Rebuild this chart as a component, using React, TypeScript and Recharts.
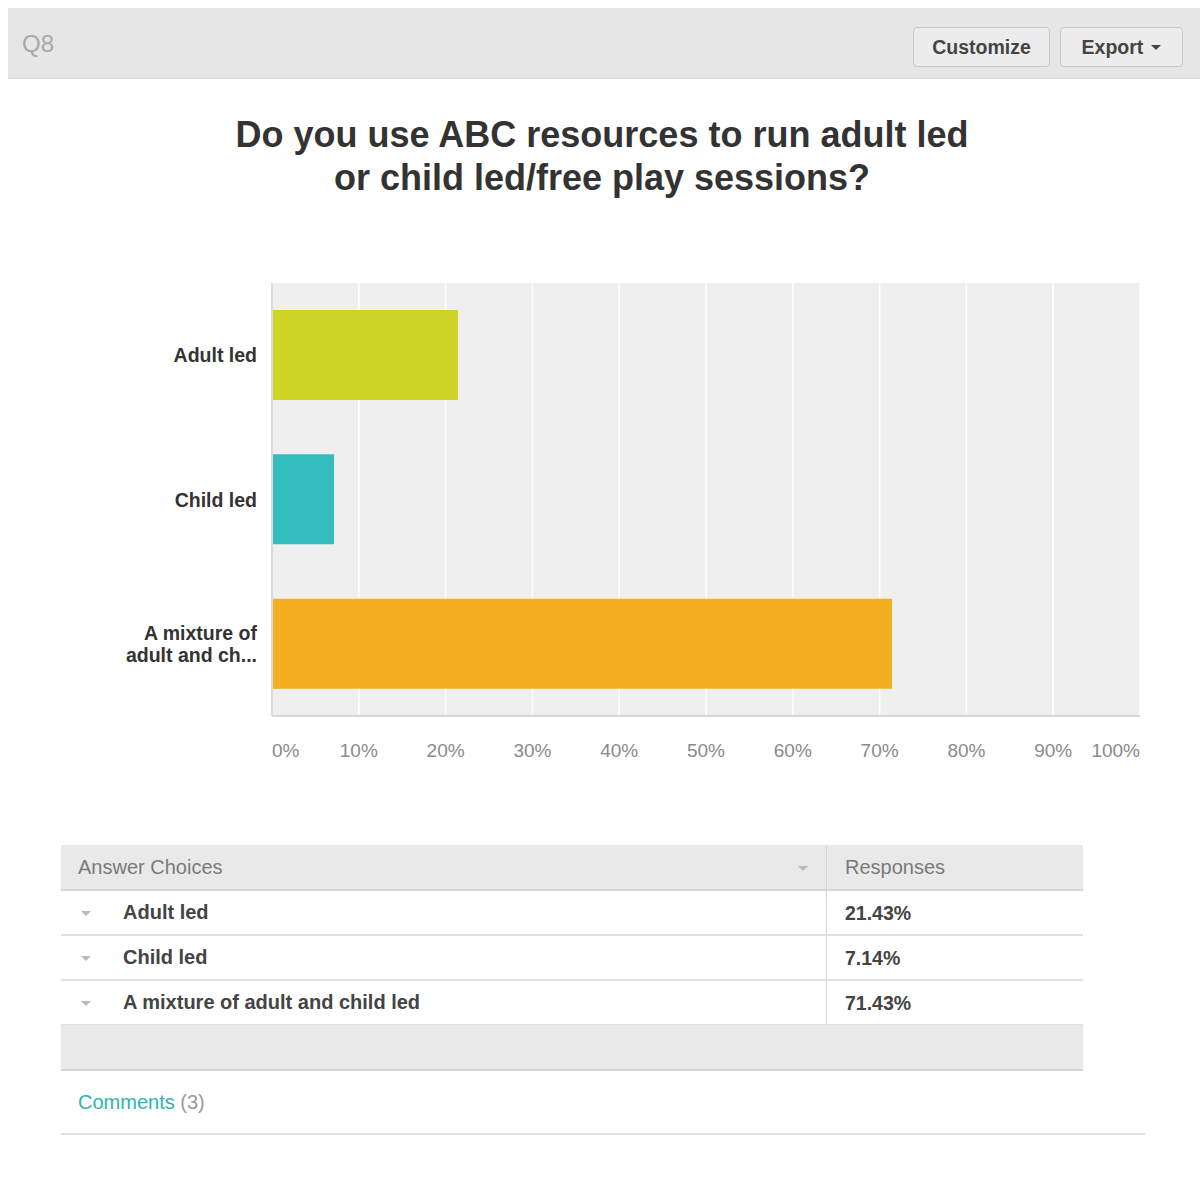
import { BarChart, Bar, XAxis, YAxis, CartesianGrid, Cell } from 'recharts';

const categories = ['Adult led', 'Child led', 'A mixture of adult and child led'];
const axisLabels = [['Adult led'], ['Child led'], ['A mixture of', 'adult and ch...']];
const responses = [21.43, 7.14, 71.43];
const barColors = ['#cdd425', '#33bdbf', '#f5ae1f'];
const xTicks = [0, 10, 20, 30, 40, 50, 60, 70, 80, 90, 100];

const FONT = '"Liberation Sans", Arial, Helvetica, sans-serif';

const data = categories.map((name, i) => ({ name, value: responses[i], idx: i }));

function XTick({ x, y, payload }: any) {
  const v = payload.value;
  const anchor = v === 0 ? 'start' : v === 100 ? 'end' : 'middle';
  return (
    <text x={x} y={y + 33} textAnchor={anchor} fill="#8a8a8a" fontSize={19} fontFamily={FONT}>
      {v}%
    </text>
  );
}

function YTick({ x, y, payload }: any) {
  const i = categories.indexOf(payload.value);
  const lines = axisLabels[i] || [payload.value];
  const start = y - ((lines.length - 1) * 22) / 2 + 7;
  return (
    <text x={x - 7} y={start} textAnchor="end" fill="#333" fontSize={19.5} fontWeight="bold" fontFamily={FONT}>
      {lines.map((l, k) => (
        <tspan key={k} x={x - 7} dy={k === 0 ? 0 : 22}>{l}</tspan>
      ))}
    </text>
  );
}

function Caret({ x, y }: { x: number; y: number }) {
  return <div style={{ position: 'absolute', left: x, top: y, width: 0, height: 0, borderLeft: '5px solid transparent', borderRight: '5px solid transparent', borderTop: '5px solid #bbb' }} />;
}

export default function App() {
  const rowTop = [890, 935, 980];
  return (
    <div style={{ position: 'absolute', left: 0, top: 0, width: 1200, height: 1204, background: '#fff', fontFamily: FONT, overflow: 'hidden' }}>
      {/* header bar */}
      <div style={{ position: 'absolute', left: 8, top: 8, width: 1192, height: 70, background: '#e6e6e6', borderBottom: '1px solid #d8d8d8' }} />
      <div style={{ position: 'absolute', left: 22, top: 30, fontSize: 24, color: '#a8a8a8' }}>Q8</div>
      <div style={{ position: 'absolute', left: 913, top: 27, width: 135, height: 38, border: '1px solid #c8c8c8', borderRadius: 4, background: '#ececec', color: '#444', fontSize: 19.5, fontWeight: 'bold', display: 'flex', alignItems: 'center', justifyContent: 'center' }}>Customize</div>
      <div style={{ position: 'absolute', left: 1060, top: 27, width: 121, height: 38, border: '1px solid #c8c8c8', borderRadius: 4, background: '#ececec', color: '#444', fontSize: 19.5, fontWeight: 'bold', display: 'flex', alignItems: 'center', justifyContent: 'center' }}>
        Export<span style={{ marginLeft: 8, display: 'inline-block', width: 0, height: 0, borderLeft: '5px solid transparent', borderRight: '5px solid transparent', borderTop: '5px solid #444' }} />
      </div>

      {/* title */}
      <div style={{ position: 'absolute', left: 0, top: 113, width: 1204, textAlign: 'center', fontSize: 36, fontWeight: 'bold', color: '#333', lineHeight: '43px' }}>
        Do you use ABC resources to run adult led<br />or child led/free play sessions?
      </div>

      {/* chart */}
      <div style={{ position: 'absolute', left: 0, top: 260 }}>
        <BarChart width={1200} height={520} data={data} layout="vertical" margin={{ top: 23, right: 60, bottom: 24, left: 0 }} barCategoryGap={27}>
          <CartesianGrid horizontal={false} fill="#efefef" stroke="#ffffff" strokeWidth={1.5} />
          <XAxis type="number" domain={[0, 100]} ticks={xTicks} tick={<XTick />} tickLine={false} axisLine={{ stroke: '#d6d6d6', strokeWidth: 2 }} height={40} />
          <YAxis type="category" dataKey="name" width={272} tick={<YTick />} tickLine={false} axisLine={{ stroke: '#dcdcdc', strokeWidth: 2 }} />
          <Bar dataKey="value" barSize={90} isAnimationActive={false}>
            {data.map((d) => <Cell key={d.name} fill={barColors[d.idx]} />)}
          </Bar>
        </BarChart>
      </div>

      {/* table */}
      <div style={{ position: 'absolute', left: 61, top: 845, width: 1022, height: 44, background: '#e9e9e9', borderBottom: '2px solid #d6d6d6' }} />
      <div style={{ position: 'absolute', left: 78, top: 856, fontSize: 20, color: '#7a7a7a' }}>Answer Choices</div>
      <Caret x={798} y={866} />
      <div style={{ position: 'absolute', left: 845, top: 856, fontSize: 20, color: '#7a7a7a' }}>Responses</div>
      <div style={{ position: 'absolute', left: 826, top: 845, width: 1, height: 180, background: '#d6d6d6' }} />
      {rowTop.map((t, i) => (
        <div key={i}>
          <div style={{ position: 'absolute', left: 61, top: t + 44, width: 1022, height: 2, background: '#e0e0e0' }} />
          <Caret x={81} y={t + 21} />
          <div style={{ position: 'absolute', left: 123, top: t + 11, fontSize: 20, fontWeight: 'bold', color: '#444' }}>{categories[i]}</div>
          <div style={{ position: 'absolute', left: 845, top: t + 12, fontSize: 19.5, fontWeight: 'bold', color: '#444' }}>{responses[i].toFixed(2)}%</div>
        </div>
      ))}
      <div style={{ position: 'absolute', left: 61, top: 1025, width: 1022, height: 44, background: '#e9e9e9', borderBottom: '2px solid #d6d6d6' }} />
      <div style={{ position: 'absolute', left: 78, top: 1091, fontSize: 20 }}>
        <span style={{ color: '#2fb3b3' }}>Comments</span> <span style={{ color: '#999' }}>(3)</span>
      </div>
      <div style={{ position: 'absolute', left: 61, top: 1133, width: 1084, height: 2, background: '#e3e3e3' }} />
    </div>
  );
}
